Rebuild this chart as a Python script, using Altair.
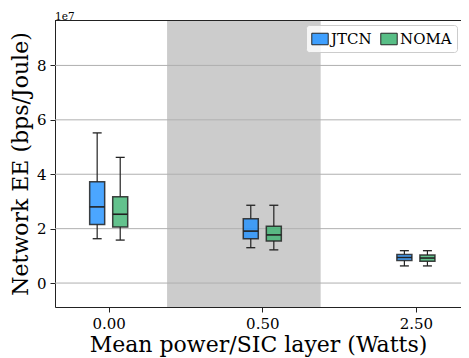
import altair as alt
import pandas as pd

# ---- data (values in units of 1e7 bps/Joule) ----
categories = ["0.00", "0.50", "2.50"]
series = ["JTCN", "NOMA"]
jtcn_low = [1.63, 1.30, 0.63]
jtcn_q1 = [2.15, 1.63, 0.83]
jtcn_med = [2.80, 1.91, 0.94]
jtcn_q3 = [3.72, 2.36, 1.05]
jtcn_high = [5.52, 2.86, 1.19]
noma_low = [1.58, 1.22, 0.63]
noma_q1 = [2.06, 1.55, 0.80]
noma_med = [2.53, 1.77, 0.92]
noma_q3 = [3.17, 2.09, 1.03]
noma_high = [4.62, 2.86, 1.19]
y_ticks = [0, 2, 4, 6, 8]
shade_span = [0.38, 1.38]  # shaded band, in category-position units

rows = []
for s, lo, a, m, b, hi in [
    ("JTCN", jtcn_low, jtcn_q1, jtcn_med, jtcn_q3, jtcn_high),
    ("NOMA", noma_low, noma_q1, noma_med, noma_q3, noma_high),
]:
    for i, c in enumerate(categories):
        rows.append(dict(category=c, series=s, low=lo[i], q1=a[i], med=m[i], q3=b[i], high=hi[i]))
df = pd.DataFrame(rows)
shade_df = pd.DataFrame({"x0": [shade_span[0]], "x1": [shade_span[1]]})
grid_df = pd.DataFrame({"v": y_ticks})

W, H = 406, 287
FONT = "DejaVu Serif"
EDGE = "#222222"
cat_list = "['" + "','".join(categories) + "']"

xscale = alt.Scale(domain=[-0.317, 2.261], nice=False, zero=False)
yscale = alt.Scale(domain=[-0.88, 9.67], nice=False, zero=False)

xaxis = alt.Axis(values=[0, 1, 2], labelExpr=f"{cat_list}[datum.value]", grid=False,
                 title="Mean power/SIC layer (Watts)", titleFontSize=22, titleFont=FONT,
                 titleFontWeight="normal", titleColor="black", titlePadding=3,
                 labelFont=FONT, labelFontSize=15, labelColor="black", labelPadding=4,
                 tickSize=5, tickColor=EDGE, domainColor=EDGE, domain=True)
yaxis = alt.Axis(values=y_ticks, format="d", grid=False,
                 title="Network EE (bps/Joule)", titleFontSize=22, titleFont=FONT,
                 titleFontWeight="normal", titleColor="black", titlePadding=4,
                 labelFont=FONT, labelFontSize=15, labelColor="black", labelPadding=4,
                 tickSize=5, tickColor=EDGE, domainColor=EDGE)

base = alt.Chart(df).transform_calculate(
    idx=f"indexof({cat_list}, datum.category)"
).transform_calculate(
    pos="datum.idx + (datum.series == 'JTCN' ? -0.075 : 0.075)"
)

shade = alt.Chart(shade_df).mark_rect(color="#cccccc").encode(
    x=alt.X("x0:Q", scale=xscale, axis=xaxis),
    x2="x1:Q",
    y=alt.value(0),
    y2=alt.value(H),
)

grid = alt.Chart(grid_df).mark_rule(color="#b0b0b0", strokeWidth=1).encode(
    y=alt.Y("v:Q", scale=yscale, axis=yaxis)
)

top_spine = alt.Chart(grid_df).mark_rule(color=EDGE, strokeWidth=1).encode(
    y=alt.value(0.5), x=alt.value(0), x2=alt.value(W)
)

x_enc = alt.X("pos:Q", scale=xscale, axis=xaxis)

whisk_lo = base.mark_rule(color=EDGE, strokeWidth=1.2).encode(
    x=x_enc, y=alt.Y("low:Q", scale=yscale, axis=yaxis), y2="q1:Q")
whisk_hi = base.mark_rule(color=EDGE, strokeWidth=1.2).encode(
    x=x_enc, y=alt.Y("q3:Q", scale=yscale, axis=yaxis), y2="high:Q")
cap_lo = base.mark_tick(color=EDGE, orient="horizontal", size=9, thickness=1.3, opacity=1).encode(
    x=x_enc, y=alt.Y("low:Q", scale=yscale, axis=yaxis))
cap_hi = base.mark_tick(color=EDGE, orient="horizontal", size=9, thickness=1.3, opacity=1).encode(
    x=x_enc, y=alt.Y("high:Q", scale=yscale, axis=yaxis))

box = base.mark_bar(size=15, stroke=EDGE, strokeWidth=1.5, fillOpacity=0.8, strokeOpacity=0.85).encode(
    x=x_enc,
    y=alt.Y("q1:Q", scale=yscale, axis=yaxis),
    y2="q3:Q",
    color=alt.Color("series:N", sort=series,
                    scale=alt.Scale(domain=series, range=["#1E90FF", "#3CB371"]),
                    legend=alt.Legend(title=None, orient="none", legendX=251, legendY=5,
                                      direction="horizontal",
                                      columns=2, labelFont=FONT, labelFontSize=15,
                                      labelColor="black", symbolType="M-1,-0.7H1V0.7H-1Z",
                                      symbolSize=270, symbolStrokeColor="black",
                                      symbolStrokeWidth=1, symbolOpacity=0.85,
                                      columnPadding=6, labelOffset=2, padding=5,
                                      fillColor="rgba(255,255,255,0.8)", strokeColor="#cccccc",
                                      cornerRadius=3)),
)
median = base.mark_tick(color=EDGE, orient="horizontal", size=15, thickness=1.6, opacity=1).encode(
    x=x_enc, y=alt.Y("med:Q", scale=yscale, axis=yaxis))

chart = alt.layer(shade, grid, top_spine, whisk_lo, whisk_hi, cap_lo, cap_hi, box, median).properties(
    width=W, height=H,
    title=alt.TitleParams("1e7", anchor="start", frame="group", fontSize=10.5, font=FONT,
                          fontWeight="normal", color="black", offset=2, dy=4),
    autosize=alt.AutoSizeParams(type="none"),
    padding={"left": 47, "top": 12, "right": 0, "bottom": 51},
).configure_view(strokeWidth=0).configure(background="white")

chart.save("out.html", embed_options={"renderer": "svg", "actions": False})
